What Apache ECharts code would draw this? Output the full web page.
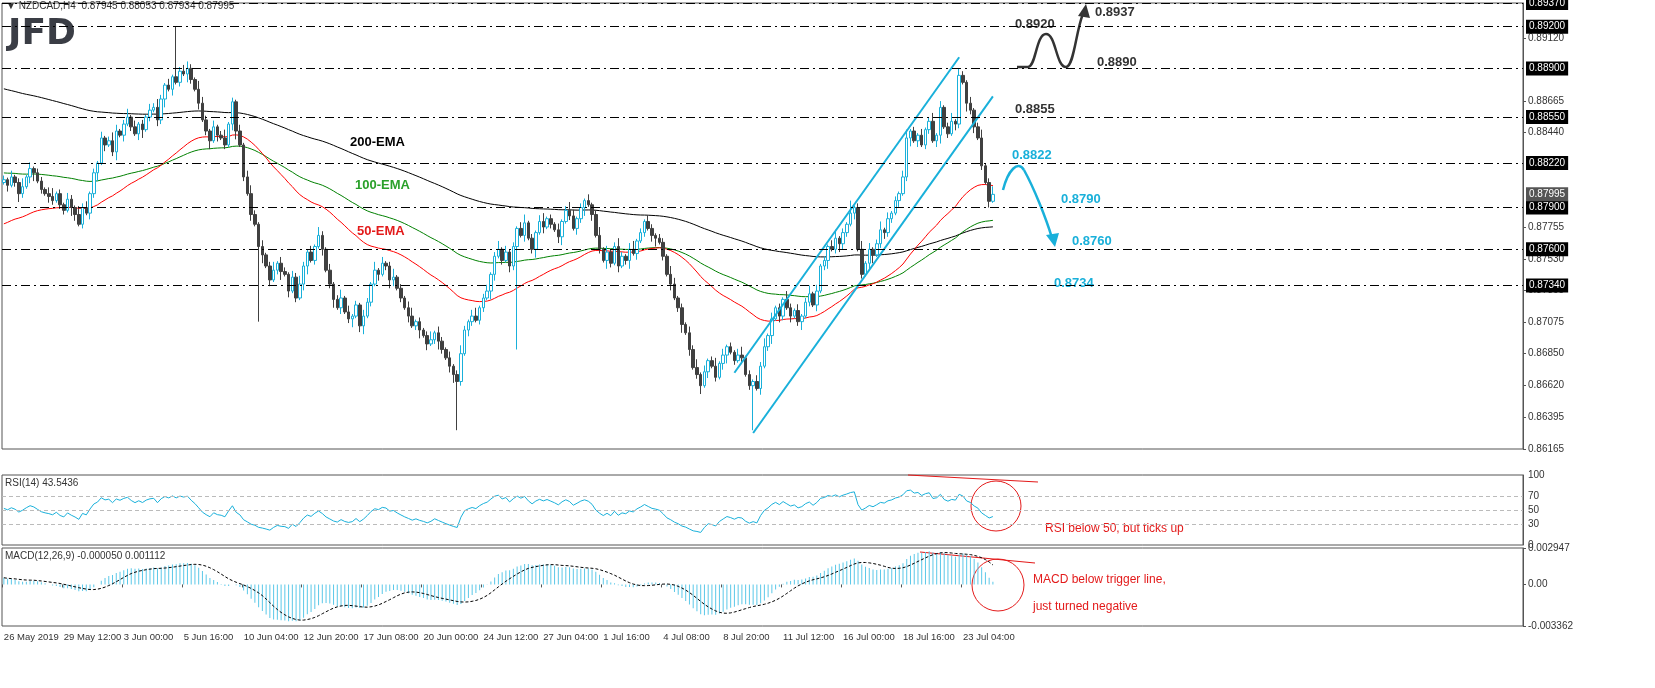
<!DOCTYPE html>
<html><head><meta charset="utf-8">
<script src="https://cdn.jsdelivr.net/npm/echarts@6/dist/echarts.min.js"></script>
<style>html,body{margin:0;padding:0;background:#fff}#c{width:1655px;height:688px}</style>
</head><body><div id="c"></div>
<script>
const closes = [
0.8810,0.8806,0.8812,0.8808,0.8800,0.8805,0.8812,0.8818,0.8815,0.8809,0.8803,0.8800,0.8798,0.8795,0.8800,0.8792,
0.8788,0.8796,0.8790,0.8785,0.8778,0.8790,0.8786,0.8800,0.8815,0.8822,0.8840,0.8835,0.8838,0.8830,0.8845,0.8842,
0.8850,0.8855,0.8848,0.8843,0.8850,0.8846,0.8855,0.8860,0.8862,0.8853,0.8868,0.8878,0.8875,0.8884,0.8880,0.8888,
0.8886,0.8890,0.8882,0.8875,0.8865,0.8853,0.8845,0.8838,0.8848,0.8842,0.8840,0.8835,0.8850,0.8866,0.8845,0.8835,
0.8812,0.8800,0.8785,0.8778,0.8762,0.8756,0.8748,0.8738,0.8745,0.8750,0.8744,0.8742,0.8730,0.8740,0.8725,0.8735,
0.8748,0.8758,0.8752,0.8762,0.8770,0.8760,0.8745,0.8735,0.8724,0.8718,0.8725,0.8715,0.8710,0.8712,0.8720,0.8705,
0.8712,0.8722,0.8735,0.8745,0.8742,0.8750,0.8748,0.8738,0.8740,0.8732,0.8725,0.8718,0.8712,0.8705,0.8708,0.8702,
0.8698,0.8692,0.8695,0.8700,0.8694,0.8688,0.8682,0.8676,0.8670,0.8665,0.8685,0.8702,0.8708,0.8712,0.8709,0.8718,
0.8725,0.8730,0.8742,0.8755,0.8760,0.8752,0.8758,0.8748,0.8762,0.8775,0.8770,0.8779,0.8768,0.8760,0.8772,0.8780,
0.8776,0.8782,0.8778,0.8774,0.8769,0.8780,0.8788,0.8784,0.8775,0.8782,0.8790,0.8795,0.8792,0.8785,0.8770,0.8760,
0.8752,0.8758,0.8750,0.8762,0.8748,0.8755,0.8752,0.8760,0.8757,0.8766,0.8772,0.8780,0.8775,0.8770,0.8768,0.8765,
0.8755,0.8742,0.8735,0.8725,0.8718,0.8706,0.8700,0.8688,0.8675,0.8670,0.8662,0.8672,0.8680,0.8676,0.8668,0.8678,
0.8684,0.8690,0.8686,0.8680,0.8684,0.8682,0.8670,0.8662,0.8665,0.8660,0.8676,0.8690,0.8698,0.8710,0.8718,0.8712,
0.8724,0.8718,0.8712,0.8716,0.8708,0.8712,0.8722,0.8728,0.8720,0.8730,0.8748,0.8752,0.8762,0.8760,0.8768,0.8764,
0.8772,0.8778,0.8786,0.8790,0.8760,0.8742,0.8750,0.8760,0.8756,0.8764,0.8774,0.8772,0.8782,0.8786,0.8795,0.8800,
0.8812,0.8840,0.8845,0.8838,0.8842,0.8835,0.8846,0.8852,0.8838,0.8842,0.8862,0.8848,0.8843,0.8852,0.8850,0.8885,
0.8880,0.8865,0.8860,0.8848,0.8840,0.8820,0.8808,0.87945,0.87995];
const upWick = "2131241312213412132142312131243124131213242131423121432131241213134213124132132421314213124131213214131241213412124132131242134123124131213412134121312431213124131242134121321221431213241312413121341213241312142131241312134121312413124131213412131241312413213124120";
const dnWick = "1312421341213212214312132413124131213412132413121421312413121341213124131241312134121312413124134121312431213124131242134121321221431213241312413121341213241312142131241312134121312413124131213412131241312413213124121312412432131213412322131241312213412132142312130";
const extremes = [[46,0.8920,null],[49,0.8895,null],[68,null,0.8708],[121,null,0.8630],[137,null,0.8688],[200,null,0.8630],[226,0.8795,null],[255,0.8890,null],[264,0.88053,0.87934]];
const dateLabels = ["26 May 2019","29 May 12:00","3 Jun 00:00","5 Jun 16:00","10 Jun 04:00","12 Jun 20:00","17 Jun 08:00","20 Jun 00:00","24 Jun 12:00","27 Jun 04:00","1 Jul 16:00","4 Jul 08:00","8 Jul 20:00","11 Jul 12:00","16 Jul 00:00","18 Jul 16:00","23 Jul 04:00"];
const levels = [0.8937,0.8920,0.8890,0.8855,0.8822,0.8790,0.8760,0.8734];
const lastPrice = 0.87995;
const priceTicks = [0.86165,0.86395,0.86620,0.86850,0.87075,0.87305,0.87530,0.87755,0.88440,0.88665,0.89120];
const channelA = [[195,0.86713],[255,0.88980]];
const channelB = [[200,0.86280],[264,0.88699]];
const emaSeeds = {e50:0.8777,e100:0.8815,e200:0.8876};

const N = 406;
const cats = Array.from({length:N},(_,i)=>String(i));
const ohlc = [];
let prev = 0.8808;
closes.forEach((c,i)=>{
  const o = i===264 ? 0.87945 : prev;
  let h = Math.max(o,c) + (+upWick[i]||1)*0.00015;
  let l = Math.min(o,c) - (+dnWick[i]||1)*0.00015;
  extremes.forEach(e=>{ if(e[0]===i){ if(e[1]!=null) h=e[1]; if(e[2]!=null) l=e[2]; }});
  ohlc.push([o,c,l,h]); prev = c;
});
function ema(p, seed){ const k=2/(p+1); let e=seed; return closes.map(c=>(e=c*k+e*(1-k))); }
const e50=ema(50,emaSeeds.e50), e100=ema(100,emaSeeds.e100), e200=ema(200,emaSeeds.e200);
const e12=ema(12,0.8812), e26=ema(26,0.8806);
const macd = e12.map((v,i)=>v-e26[i]);
const sig = macd.map((v,i)=>{ const s=macd.slice(Math.max(0,i-8),i+1); return s.reduce((a,b)=>a+b,0)/s.length; });
let ag=0.0004, al=0.0004, pc=0.8805;
const rsi = closes.map(c=>{ const d=c-pc; pc=c; ag=(ag*13+Math.max(d,0))/14; al=(al*13+Math.max(-d,0))/14; return 100-100/(1+ag/al); });

const dash = [9,4,2,4];
const chart = echarts.init(document.getElementById('c'));
const F = '"Liberation Sans", Arial, sans-serif';
function bz(p, color){ return {type:'bezierCurve',shape:{x1:p[0],y1:p[1],cpx1:p[2],cpy1:p[3],cpx2:p[4],cpy2:p[5],x2:p[6],y2:p[7]},style:{stroke:color,lineWidth:2.5,fill:null}}; }
const lvlLabel = {position:'end',distance:3,backgroundColor:'#000',color:'#fff',fontSize:10,padding:[2,3],fontFamily:F,formatter:p=>(+p.value).toFixed(5)};
chart.setOption({
  animation:false,
  textStyle:{fontFamily:F},
  grid:[
    {left:2,right:132,top:3,height:446,show:true,borderColor:'#555',borderWidth:1},
    {left:2,right:132,top:475,height:70,show:true,borderColor:'#555',borderWidth:1},
    {left:2,right:132,top:548,height:78,show:true,borderColor:'#555',borderWidth:1}
  ],
  xAxis:[0,1,2].map(g=>({type:'category',gridIndex:g,data:cats,boundaryGap:true,
    axisLine:{show:false},axisTick:{show:g===2,interval:(i)=>i%16===0&&i<=256,length:3,lineStyle:{color:'#555'}},
    splitLine:{show:false},
    axisLabel:{show:g===2,interval:0,align:'left',fontSize:9.5,color:'#333',margin:6,fontFamily:F,
      formatter:(v,i)=>(i%16===0&&dateLabels[i/16])?dateLabels[i/16]:''}})),
  yAxis:[
    {type:'value',gridIndex:0,position:'right',min:0.86165,max:0.8937,splitLine:{show:false},
      axisLine:{show:true,lineStyle:{color:'#555'}},axisTick:{show:true,customValues:priceTicks,length:3},
      axisLabel:{customValues:priceTicks,fontSize:10,color:'#333',formatter:v=>v.toFixed(5),margin:5}},
    {type:'value',gridIndex:1,position:'right',min:0,max:100,splitLine:{show:false},
      axisLine:{show:true,lineStyle:{color:'#555'}},axisTick:{show:false},
      axisLabel:{customValues:[0,30,50,70,100],fontSize:10,color:'#333',margin:5}},
    {type:'value',gridIndex:2,position:'right',min:-0.003362,max:0.002947,splitLine:{show:false},
      axisLine:{show:true,lineStyle:{color:'#555'}},axisTick:{show:true,customValues:[0.002947,0,-0.003362],length:3},
      axisLabel:{customValues:[0.002947,0,-0.003362],fontSize:10,color:'#333',margin:5,formatter:v=>v===0?'0.00':v.toFixed(6)}}
  ],
  series:[
    {type:'line',data:e200,symbol:'none',lineStyle:{color:'#000',width:1},z:1,
      markLine:{symbol:'none',silent:true,precision:5,
        lineStyle:{color:'#000',type:dash,width:1},label:lvlLabel,
        data:levels.map(v=>({yAxis:v})).concat([{yAxis:lastPrice,lineStyle:{color:'rgba(0,0,0,0)'},label:Object.assign({},lvlLabel,{backgroundColor:'#555'})}])}},
    {type:'line',data:e100,symbol:'none',lineStyle:{color:'#008000',width:1},z:1},
    {type:'line',data:e50,symbol:'none',lineStyle:{color:'#ff0000',width:1},z:1},
    {type:'candlestick',xAxisIndex:0,yAxisIndex:0,data:ohlc,barWidth:3,z:3,
      itemStyle:{color:'#ffffff',color0:'#404040',borderColor:'#19b0da',borderColor0:'#404040',borderWidth:1}},
    {type:'line',data:channelA,symbol:'none',lineStyle:{color:'#19b0da',width:2},z:4},
    {type:'line',data:channelB,symbol:'none',lineStyle:{color:'#19b0da',width:2},z:4},
    {type:'line',xAxisIndex:1,yAxisIndex:1,data:rsi,symbol:'none',lineStyle:{color:'#19b0da',width:1},
      markLine:{symbol:'none',silent:true,label:{show:false},lineStyle:{color:'#bbb',type:[4,3],width:1},data:[{yAxis:70},{yAxis:50},{yAxis:30}]}},
    {type:'bar',xAxisIndex:2,yAxisIndex:2,data:macd,barWidth:1,itemStyle:{color:'#5bc8e8'}},
    {type:'line',xAxisIndex:2,yAxisIndex:2,data:sig,symbol:'none',lineStyle:{color:'#000',width:1,type:[3,2]}}
  ],
  graphic:[
    {type:'text',left:6,top:1,style:{text:'▼ NZDCAD,H4  0.87945 0.88053 0.87934 0.87995',fontSize:10,fill:'#333',fontFamily:F}},
    {type:'text',left:8,top:17,style:{text:'JFD',fontSize:36,fontWeight:'bold',fill:'#3a3d45',fontFamily:'"DejaVu Sans", sans-serif'}},
    {type:'text',left:350,top:136,style:{text:'200-EMA',fontSize:13,fontWeight:'bold',fill:'#000'}},
    {type:'text',left:355,top:179,style:{text:'100-EMA',fontSize:13,fontWeight:'bold',fill:'#2aa02a'}},
    {type:'text',left:357,top:225,style:{text:'50-EMA',fontSize:13,fontWeight:'bold',fill:'#e31a1a'}},
    {type:'text',left:1015,top:18,style:{text:'0.8920',fontSize:13,fontWeight:'bold',fill:'#333'}},
    {type:'text',left:1095,top:6,style:{text:'0.8937',fontSize:13,fontWeight:'bold',fill:'#333'}},
    {type:'text',left:1097,top:56,style:{text:'0.8890',fontSize:13,fontWeight:'bold',fill:'#333'}},
    {type:'text',left:1015,top:103,style:{text:'0.8855',fontSize:13,fontWeight:'bold',fill:'#333'}},
    {type:'text',left:1012,top:149,style:{text:'0.8822',fontSize:13,fontWeight:'bold',fill:'#19b0da'}},
    {type:'text',left:1061,top:193,style:{text:'0.8790',fontSize:13,fontWeight:'bold',fill:'#19b0da'}},
    {type:'text',left:1072,top:235,style:{text:'0.8760',fontSize:13,fontWeight:'bold',fill:'#19b0da'}},
    {type:'text',left:1054,top:277,style:{text:'0.8734',fontSize:13,fontWeight:'bold',fill:'#19b0da'}},
    {type:'line',shape:{x1:1017,y1:67,x2:1028,y2:67},style:{stroke:'#333',lineWidth:2.5}},
    bz([1028,67,1036,67,1036,34,1046,34],'#333'),
    bz([1046,34,1056,34,1056,67,1066,67],'#333'),
    bz([1066,67,1074,67,1076,30,1083,14],'#333'),
    {type:'polygon',shape:{points:[[1086,4],[1078,16],[1090,18]]},style:{fill:'#333'}},
    bz([1003,190,1008,170,1018,160,1024,170],'#19b0da'),
    bz([1024,170,1034,188,1046,218,1052,238],'#19b0da'),
    {type:'polygon',shape:{points:[[1055,247],[1046,235],[1059,233]]},style:{fill:'#19b0da'}},
    {type:'text',left:5,top:478,style:{text:'RSI(14) 43.5436',fontSize:10,fill:'#333',fontFamily:F}},
    {type:'text',left:5,top:551,style:{text:'MACD(12,26,9) -0.000050 0.001112',fontSize:10,fill:'#333',fontFamily:F}},
    {type:'line',shape:{x1:908,y1:475,x2:1038,y2:482},style:{stroke:'#e31a1a',lineWidth:1.2}},
    {type:'circle',shape:{cx:996,cy:506,r:25},style:{stroke:'#e31a1a',fill:null,lineWidth:1}},
    {type:'text',left:1045,top:523,style:{text:'RSI below 50, but ticks up',fontSize:12,fill:'#e31a1a'}},
    {type:'line',shape:{x1:920,y1:552,x2:1035,y2:563},style:{stroke:'#e31a1a',lineWidth:1.2}},
    {type:'circle',shape:{cx:998,cy:585,r:26},style:{stroke:'#e31a1a',fill:null,lineWidth:1}},
    {type:'text',left:1033,top:566,style:{text:'MACD below trigger line,\njust turned negative',fontSize:12,lineHeight:27,fill:'#e31a1a'}}
  ]
});
</script></body></html>
